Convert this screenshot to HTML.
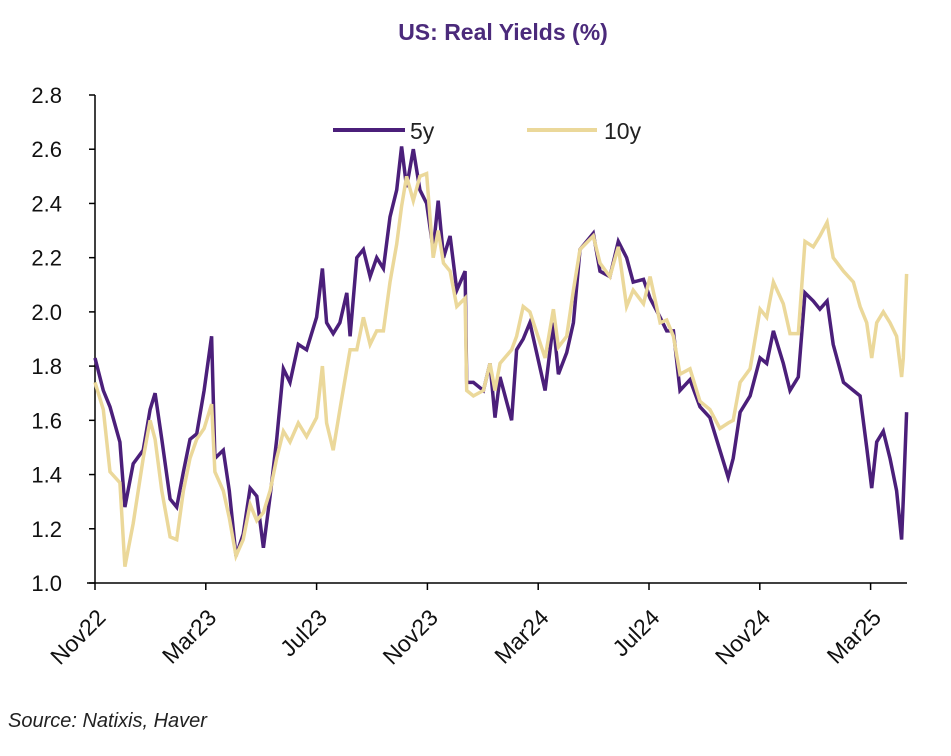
<!DOCTYPE html>
<html><head><meta charset="utf-8"><style>
body{margin:0;background:#fff;width:951px;height:751px;overflow:hidden;font-family:"Liberation Sans",sans-serif}
</style></head><body>
<svg width="951" height="751">
<text x="503" y="40" text-anchor="middle" font-size="23" font-weight="bold" fill="#4B2A7B">US: Real Yields (%)</text>
<g id="axes"></g>
<g id="series"></g>
<g>
<line x1="333" y1="130" x2="405" y2="130" stroke="#4B1F7A" stroke-width="4"/>
<text x="410" y="139" font-size="23" fill="#222">5y</text>
<line x1="527" y1="130" x2="597" y2="130" stroke="#EBD89A" stroke-width="4"/>
<text x="604" y="139" font-size="23" fill="#222">10y</text>
</g>
<text x="8" y="727" font-size="20" font-style="italic" fill="#222">Source: Natixis, Haver</text>
</svg>
<script>
const months=[0,0.30,0.54,0.90,1.08,1.38,1.74,1.99,2.17,2.41,2.71,2.95,3.19,3.43,3.67,3.94,4.21,4.33,4.63,4.85,5.09,5.35,5.60,5.84,6.08,6.32,6.56,6.80,7.04,7.34,7.64,8.00,8.21,8.36,8.60,8.84,9.09,9.21,9.45,9.69,9.93,10.17,10.41,10.65,10.89,11.07,11.25,11.49,11.73,11.97,12.21,12.39,12.58,12.82,13.06,13.36,13.42,13.66,14.02,14.26,14.44,14.62,15.04,15.22,15.46,15.70,16.25,16.55,16.73,17.03,17.27,17.51,17.99,18.23,18.59,18.89,19.19,19.43,19.80,20.04,20.40,20.64,20.88,21.12,21.48,21.84,22.20,22.56,22.86,23.04,23.29,23.65,24.01,24.25,24.49,24.85,25.09,25.39,25.63,25.93,26.17,26.43,26.65,27.02,27.38,27.62,27.86,28.04,28.22,28.46,28.70,28.94,29.12,29.18,29.30];
const y5=[1.83,1.71,1.65,1.52,1.28,1.44,1.49,1.64,1.70,1.53,1.31,1.28,1.41,1.53,1.55,1.71,1.91,1.46,1.49,1.34,1.10,1.18,1.35,1.32,1.13,1.32,1.53,1.79,1.74,1.88,1.86,1.98,2.16,1.96,1.92,1.96,2.07,1.91,2.20,2.23,2.13,2.20,2.16,2.35,2.45,2.61,2.46,2.60,2.45,2.40,2.23,2.41,2.20,2.28,2.08,2.15,1.74,1.74,1.71,1.81,1.61,1.76,1.60,1.86,1.90,1.96,1.71,1.96,1.77,1.85,1.96,2.23,2.29,2.15,2.13,2.26,2.20,2.11,2.12,2.05,1.98,1.93,1.93,1.71,1.75,1.65,1.61,1.49,1.39,1.46,1.63,1.69,1.83,1.81,1.93,1.81,1.71,1.76,2.07,2.04,2.01,2.04,1.88,1.74,1.71,1.69,1.50,1.35,1.52,1.56,1.46,1.34,1.16,1.31,1.63];
const y10=[1.74,1.64,1.41,1.37,1.06,1.22,1.46,1.60,1.53,1.34,1.17,1.16,1.34,1.46,1.53,1.57,1.66,1.41,1.34,1.24,1.10,1.16,1.29,1.23,1.26,1.34,1.46,1.56,1.52,1.59,1.54,1.61,1.80,1.59,1.49,1.64,1.79,1.86,1.86,1.98,1.88,1.93,1.93,2.11,2.25,2.39,2.50,2.41,2.50,2.51,2.20,2.30,2.18,2.15,2.02,2.05,1.71,1.69,1.71,1.81,1.71,1.81,1.86,1.91,2.02,2.00,1.83,2.01,1.87,1.91,2.08,2.23,2.28,2.18,2.13,2.24,2.02,2.08,2.03,2.13,1.96,1.97,1.91,1.77,1.79,1.67,1.64,1.57,1.59,1.60,1.74,1.79,2.01,1.98,2.11,2.03,1.92,1.92,2.26,2.24,2.28,2.33,2.20,2.15,2.11,2.02,1.96,1.83,1.96,2.00,1.96,1.91,1.76,1.83,2.14];
const yTicks=[1.0,1.2,1.4,1.6,1.8,2.0,2.2,2.4,2.6,2.8];
const xTickMonths=[0,4,8,12,16,20,24,28];
const xTickLabels=["Nov22","Mar23","Jul23","Nov23","Mar24","Jul24","Nov24","Mar25"];
const X0=95,X1=907,Y0=583,Y1=95;
const xs=m=>X0+m*27.7;
const ys=v=>Y0-(v-1.0)/(2.8-1.0)*(Y0-Y1);
const NS="http://www.w3.org/2000/svg";
const ax=document.getElementById('axes'),sr=document.getElementById('series');
function mk(tag,at,parent){const e=document.createElementNS(NS,tag);for(const k in at)e.setAttribute(k,at[k]);parent.appendChild(e);return e;}
let l=mk('line',{x1:X0,y1:Y1,x2:X0,y2:Y0,stroke:'#000','stroke-width':1.5},ax);


l=mk('line',{x1:X0-8,y1:Y0,x2:X1,y2:Y0,stroke:'#000','stroke-width':1.5},ax);


yTicks.forEach(v=>{
 const t=mk('line',{x1:X0-6,y1:ys(v),x2:X0,y2:ys(v),stroke:'#000','stroke-width':1.5},ax);
 
 
 const tx=mk('text',{x:62,y:ys(v)+8,'text-anchor':'end','font-size':22,fill:'#111'},ax);
 tx.textContent=v.toFixed(1);
 
 
});
xTickMonths.forEach((m,i)=>{
 const x=xs(m);
 const t=mk('line',{x1:x,y1:Y0,x2:x,y2:Y0+7,stroke:'#000','stroke-width':1.5},ax);
 
 
 const tx=mk('text',{x:x+12,y:Y0+36,'text-anchor':'end','font-size':23,fill:'#111',transform:`rotate(-45 ${x+12} ${Y0+36})`},ax);
 tx.textContent=xTickLabels[i];
 
 
});
function draw(vals,color,name){
 const pts=months.map((m,i)=>xs(m).toFixed(1)+','+ys(vals[i]).toFixed(1)).join(' ');
 const p=mk('polyline',{points:pts,fill:'none',stroke:color,'stroke-width':3.5,'stroke-linejoin':'miter'},sr);
 
 
}
draw(y5,'#4B1F7A','series-5y-line');
draw(y10,'#EBD89A','series-10y-line');
</script>
</body></html>
